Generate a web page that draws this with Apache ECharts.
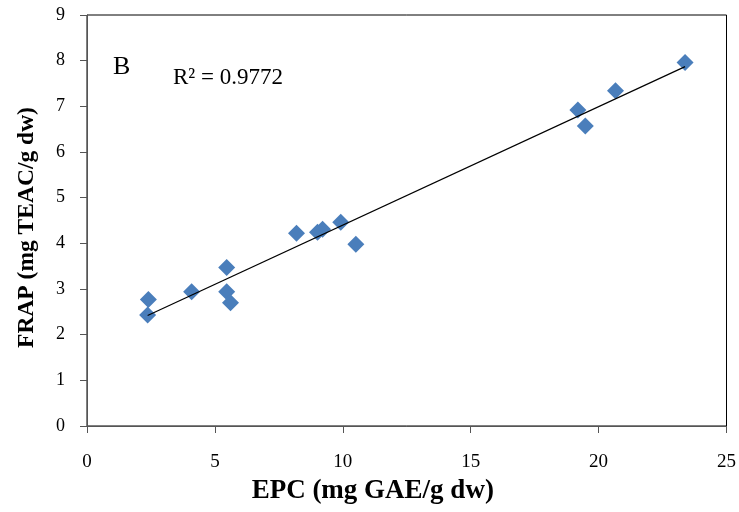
<!DOCTYPE html>
<html><head><meta charset="utf-8">
<script src="https://cdn.jsdelivr.net/npm/echarts@6/dist/echarts.min.js"></script>
<style>html,body{margin:0;padding:0;background:#fff}#c{width:739px;height:512px}</style>
</head><body><div id="c"></div>
<script>
const epc  = [2.40, 2.37, 4.09, 5.46, 5.46, 5.61, 8.19, 9.01, 9.21, 9.92, 10.51, 19.19, 19.48, 20.66, 23.38];
const frap = [2.77, 2.43, 2.94, 3.47, 2.94, 2.70, 4.22, 4.24, 4.31, 4.46, 3.98, 6.92, 6.57, 7.34, 7.96];
const trendX = [2.37, 23.38];
const trendY = [2.42, 7.87];
const xTicks = [0, 5, 10, 15, 20, 25];
const yTicks = [0, 1, 2, 3, 4, 5, 6, 7, 8, 9];
const panelLabel = 'B';
const r2Label = 'R² = 0.9772';

const serif = '"Liberation Serif", "DejaVu Serif", serif';
const chart = echarts.init(document.getElementById('c'));
chart.setOption({
  backgroundColor: '#fff',
  animation: false,
  grid: {left: 87, right: 12, top: 15, bottom: 86, show: true, borderColor: '#000', borderWidth: 1},
  xAxis: {
    type: 'value', min: xTicks[0], max: xTicks[xTicks.length - 1], interval: 5,
    name: 'EPC (mg GAE/g dw)', nameLocation: 'middle', nameGap: 52,
    nameTextStyle: {fontFamily: serif, fontSize: 27, fontWeight: 'bold', color: '#000', padding: [0, 68, 0, 0]},
    axisLine: {onZero: false, lineStyle: {color: '#555', width: 1}},
    axisTick: {show: true, length: 7, inside: false, lineStyle: {color: '#555'}},
    axisLabel: {fontFamily: serif, fontSize: 19, color: '#000', margin: 27},
    splitLine: {show: false}
  },
  yAxis: {
    type: 'value', min: yTicks[0], max: yTicks[yTicks.length - 1], interval: 1,
    name: 'FRAP (mg TEAC/g dw)', nameLocation: 'middle', nameGap: 48, nameRotate: 90,
    nameTextStyle: {fontFamily: serif, fontSize: 23.5, fontWeight: 'bold', color: '#000', padding: [0, 14, 0, 0]},
    axisLine: {onZero: false, lineStyle: {color: '#555', width: 1}},
    axisTick: {show: true, length: 7, inside: false, lineStyle: {color: '#555'}},
    axisLabel: {fontFamily: serif, fontSize: 18, color: '#000', margin: 22},
    splitLine: {show: false}
  },
  series: [
    {
      type: 'line', data: trendX.map((x, i) => [x, trendY[i]]),
      showSymbol: false, symbol: 'none', lineStyle: {color: '#000', width: 1.2}, z: 3
    },
    {
      type: 'scatter', data: epc.map((x, i) => [x, frap[i]]),
      symbol: 'diamond', symbolSize: [17, 17],
      itemStyle: {color: '#4A7EBB', opacity: 1}, z: 2
    }
  ],
  graphic: [
    {type: 'text', left: 113, top: 54, style: {text: panelLabel, font: '26px ' + serif, fill: '#000'}},
    {type: 'text', left: 173, top: 66, style: {text: r2Label, font: '23px ' + serif, fill: '#000'}}
  ]
});
</script></body></html>
